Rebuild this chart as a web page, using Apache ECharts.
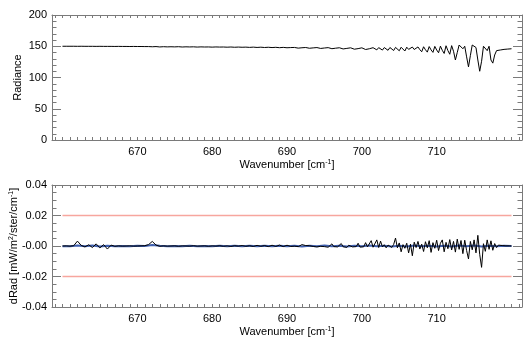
<!DOCTYPE html>
<html>
<head>
<meta charset="utf-8">
<script src="https://cdn.jsdelivr.net/npm/echarts@6/dist/echarts.min.js"></script>
<style>
  html, body { margin: 0; padding: 0; background: #fff; }
  #chart { width: 526px; height: 346px; }
</style>
</head>
<body>
<div id="chart"></div>
<script>
// Sampling grid of the spectrum: 0.5 cm-1 up to 690, then 0.25 cm-1 up to 720
const coarseStart = 660, coarseEnd = 690, coarseStep = 0.5;
const fineEnd = 720, fineStep = 0.25;

// Radiance, 660..690 (coarse grid)
const radianceCoarse = [
  150.0, 150.0, 150.0, 150.0, 149.9, 150.0, 149.9, 149.9, 149.9, 149.8,
  149.9, 149.8, 149.8, 149.8, 149.7, 149.8, 149.7, 149.7, 149.6, 149.7,
  149.6, 149.6, 149.5, 149.5, 149.2, 149.5, 148.9, 149.3, 149.0, 149.2,
  149.0, 149.3, 148.8, 149.1, 148.9, 149.1, 148.7, 149.0, 148.8, 148.9,
  148.6, 148.9, 148.7, 148.8, 148.5, 148.8, 148.4, 148.7, 148.4, 148.6,
  148.2, 148.6, 148.1, 148.5, 148.0, 148.4, 147.9, 148.3, 147.7, 148.2,
  147.6
];
// Radiance, 690.25..720 (fine grid)
const radianceFine = [
  148.3, 147.9, 147.2, 148.1, 147.8, 147.0, 148.2, 147.6, 146.9, 148.0,
  147.5, 146.8, 148.0, 147.4, 146.6, 147.9, 147.3, 146.5, 147.8, 147.2,
  146.3, 147.8, 147.0, 146.1, 147.7, 146.9, 145.9, 147.6, 146.8, 145.7,
  147.5, 146.6, 145.5, 147.5, 146.4, 145.3, 147.4, 146.2, 145.0, 147.5,
  146.0, 144.8, 147.6, 146.0, 144.5, 147.7, 145.8, 144.2, 147.8, 145.7,
  143.9, 147.9, 145.6, 143.5, 148.0, 145.5, 143.2, 148.2, 145.3, 142.8,
  148.4, 145.2, 142.4, 148.5, 145.0, 142.0, 148.7, 144.8, 141.6, 148.9,
  144.6, 141.2, 149.2, 144.4, 140.6, 149.5, 144.2, 140.2, 149.8, 144.0,
  139.6, 150.2, 143.5, 138.5, 150.8, 143.0, 137.2, 151.0,
  142, 128, 140, 152, 153, 146, 150, 133, 117, 135,
  152, 154, 148, 128, 110, 126, 150, 153, 143, 150,
  128, 123, 136, 143, 145, 144, 145, 145, 145.5, 145.5,
  146, 146
];

// Radiance difference, 660..690 (coarse grid)
const dRadCoarse = [
  0.0000, 0.0001, -0.0001, 0.0002, 0.0032, 0.0004, -0.0006, 0.0008, -0.0010, 0.0014,
  -0.0012, 0.0009, -0.0020, 0.0006, -0.0002, 0.0001, -0.0001, 0.0000, 0.0001, -0.0001,
  0.0000, 0.0001, 0.0002, 0.0009, 0.0030, 0.0006, -0.0002, 0.0001, -0.0001, 0.0000,
  0.0001, -0.0002, 0.0001, 0.0000, -0.0001, 0.0002, -0.0001, 0.0000, 0.0001, -0.0002,
  0.0001, -0.0001, 0.0002, -0.0002, 0.0001, -0.0003, 0.0002, -0.0001, 0.0003, -0.0002,
  0.0002, -0.0003, 0.0004, -0.0002, 0.0003, -0.0004, 0.0005, -0.0003, 0.0006, -0.0004,
  0.0005
];
// Radiance difference, 690.25..720 (fine grid)
const dRadFine = [
  0.0002, -0.0003, 0.0004, -0.0001, 0.0003, -0.0004, 0.0002, 0.0009,
  -0.0002, 0.0003, -0.0005, 0.0002, 0.0012, -0.0003, 0.0004, -0.0006,
  0.0003, -0.0002, 0.0010, -0.0004, 0.0002, -0.0008, 0.0005, 0.0014,
  -0.0004, 0.0003, -0.0006, 0.0004, 0.0016, -0.0005, 0.0002, -0.0009,
  0.0005, 0.0011, -0.0006, 0.0003, -0.0004, 0.0018, -0.0007, 0.0004,
  -0.0005, 0.0022, -0.0006, 0.0006, 0.0035, -0.0008, 0.0005, 0.0040,
  -0.0010, 0.0032, -0.0006, 0.0008, -0.0012, 0.0006, 0.0015, -0.0009,
  0.0010, 0.0052, -0.0012, 0.0020, -0.0038, 0.0009, -0.0015, 0.0018,
  -0.0045, 0.0012, -0.0064, 0.0025, -0.0010, 0.0030, -0.0020, 0.0012,
  -0.0036, 0.0028, -0.0012, 0.0035, -0.0042, 0.0022, -0.0015, 0.0038,
  -0.0030, 0.0018, 0.0040, -0.0038, 0.0024, -0.0018, 0.0042, -0.0026,
  0.0030, -0.0040, 0.0045, -0.0022, 0.0036, -0.0050, 0.0038, -0.0030,
  -0.0085, 0.0030, -0.0025, 0.0040, -0.0045, 0.0070, -0.0055, -0.0140,
  0.0015, -0.0035, 0.0040, -0.0022, 0.0034, -0.0028, 0.0016, -0.0010,
  0.0006, -0.0004, 0.0003, -0.0002, 0.0001, -0.0001, 0.0001, 0.0000
];

// Smoothed difference, 660..720 every 1 cm-1
const smoothStart = 660, smoothStep = 1;
const dRadSmooth = [
  -0.0002, -0.0001, 0.0003, -0.0002, 0.0004, -0.0003, 0.0002, -0.0001, 0.0000, -0.0001,
  0.0001, 0.0000, 0.0006, 0.0001, -0.0001, 0.0000, -0.0001, 0.0001, -0.0001, 0.0000,
  -0.0002, 0.0001, -0.0001, 0.0001, -0.0002, 0.0002, -0.0001, 0.0001, -0.0002, 0.0002,
  -0.0001, 0.0002, -0.0003, 0.0001, -0.0002, 0.0003, -0.0002, 0.0001, -0.0003, 0.0002,
  -0.0001, 0.0003, -0.0002, 0.0002, -0.0003, 0.0001, -0.0004, 0.0003, -0.0002, 0.0002,
  -0.0003, 0.0002, -0.0004, 0.0003, -0.0002, 0.0004, -0.0003, 0.0002, -0.0001, 0.0001,
  0.0000
];

// Tolerance band on the difference
const limitValue = 0.02;

// Axis settings
const xMin = 658.6, xMax = 721.4;
const xLabelValues = [670, 680, 690, 700, 710];
const xMinorValues = [];
for (let v = 659; v <= 721; v++) xMinorValues.push(v);

// Build wavenumber grid for the sampled series
const wavenumbers = [];
for (let i = 0; coarseStart + i * coarseStep <= coarseEnd; i++) wavenumbers.push(coarseStart + i * coarseStep);
for (let i = 1; coarseEnd + i * fineStep <= fineEnd; i++) wavenumbers.push(coarseEnd + i * fineStep);

const radiance = radianceCoarse.concat(radianceFine);
const dRad = dRadCoarse.concat(dRadFine);
const pairs = (xs, ys) => ys.map((y, i) => [xs[i], y]);
const smoothX = dRadSmooth.map((_, i) => smoothStart + i * smoothStep);

const FONT = "'Liberation Sans', Arial, Helvetica, sans-serif";
const AXIS_GRAY = '#7a7a7a';
const supStyle = () => ({ sup: { fontSize: 7, fontFamily: FONT, color: '#000', verticalAlign: 'top', padding: [0, 0, 4, 0] } });

function xAxis(gridIndex, position, withLabels) {
  const axis = {
    type: 'value', gridIndex, position, min: xMin, max: xMax,
    splitLine: { show: false },
    axisLine: { show: true, onZero: false, lineStyle: { color: AXIS_GRAY, width: 1 } },
    axisTick: { show: true, inside: true, length: 3, customValues: xMinorValues.slice(),
                lineStyle: { color: AXIS_GRAY, width: 1 } },
    axisLabel: { show: false }
  };
  if (withLabels) {
    axis.axisLabel = { show: true, customValues: xLabelValues.slice(), color: '#000', fontSize: 11,
                       fontFamily: FONT, margin: 6 };
    axis.name = 'Wavenumber [cm{sup|-1}]';
    axis.nameLocation = 'middle';
    axis.nameGap = 19;
    axis.nameMoveOverlap = false;
    axis.nameTextStyle = { color: '#000', fontSize: 11, fontFamily: FONT, verticalAlign: 'top', rich: supStyle() };
  }
  return axis;
}

function yAxis(gridIndex, position, min, max, interval, minorSplit, name, nameGap, fmt) {
  const axis = {
    type: 'value', gridIndex, position, min, max, interval,
    splitLine: { show: false },
    axisLine: { show: true, onZero: false, lineStyle: { color: AXIS_GRAY, width: 1 } },
    axisTick: { show: true, inside: true, length: 9, lineStyle: { color: AXIS_GRAY, width: 1 } },
    minorTick: { show: true, splitNumber: minorSplit, length: 4.5, lineStyle: { color: AXIS_GRAY, width: 1 } },
    axisLabel: { show: false }
  };
  if (name) {
    axis.axisLabel = { show: true, color: '#000', fontSize: 11, fontFamily: FONT, margin: 5, formatter: fmt };
    axis.name = name;
    axis.nameLocation = 'middle';
    axis.nameGap = nameGap;
    axis.nameMoveOverlap = false;
    axis.nameRotate = 90;
    axis.nameTextStyle = { color: '#000', fontSize: 11, fontFamily: FONT, rich: supStyle() };
  }
  return axis;
}

const radianceFmt = v => String(Math.round(v));
const dRadFmt = v => (Math.abs(v) < 1e-9 ? '-0.00' : v.toFixed(2));

const chart = echarts.init(document.getElementById('chart'), null, { renderer: 'canvas' });

chart.setOption({
  backgroundColor: '#fff',
  animation: false,
  grid: [
    { left: 52, top: 15, width: 470, height: 125 },
    { left: 52, top: 185, width: 470, height: 122 }
  ],
  xAxis: [
    xAxis(0, 'bottom', true), xAxis(0, 'top', false),
    xAxis(1, 'bottom', true), xAxis(1, 'top', false)
  ],
  yAxis: [
    yAxis(0, 'left', 0, 200, 50, 5, 'Radiance', 29, radianceFmt),
    yAxis(0, 'right', 0, 200, 50, 5, '', 0, null),
    yAxis(1, 'left', -0.04, 0.04, 0.02, 4, 'dRad [mW/m{sup|2}/ster/cm{sup|-1}]', 33, dRadFmt),
    yAxis(1, 'right', -0.04, 0.04, 0.02, 4, '', 0, null)
  ],
  series: [
    {
      type: 'line', xAxisIndex: 0, yAxisIndex: 0, data: pairs(wavenumbers, radiance),
      symbol: 'none', lineStyle: { color: '#000', width: 1 }
    },
    {
      type: 'line', xAxisIndex: 2, yAxisIndex: 2,
      data: [[coarseStart, limitValue], [fineEnd, limitValue], '-', [coarseStart, -limitValue], [fineEnd, -limitValue]],
      symbol: 'none', connectNulls: false, lineStyle: { color: '#f7a69e', width: 1.4 }
    },
    {
      type: 'line', xAxisIndex: 2, yAxisIndex: 2, data: pairs(smoothX, dRadSmooth),
      symbol: 'none', lineStyle: { color: '#3f5fae', width: 2 }
    },
    {
      type: 'line', xAxisIndex: 2, yAxisIndex: 2, data: pairs(wavenumbers, dRad),
      symbol: 'none', lineStyle: { color: '#000', width: 1 }
    }
  ]
});
</script>
</body>
</html>
